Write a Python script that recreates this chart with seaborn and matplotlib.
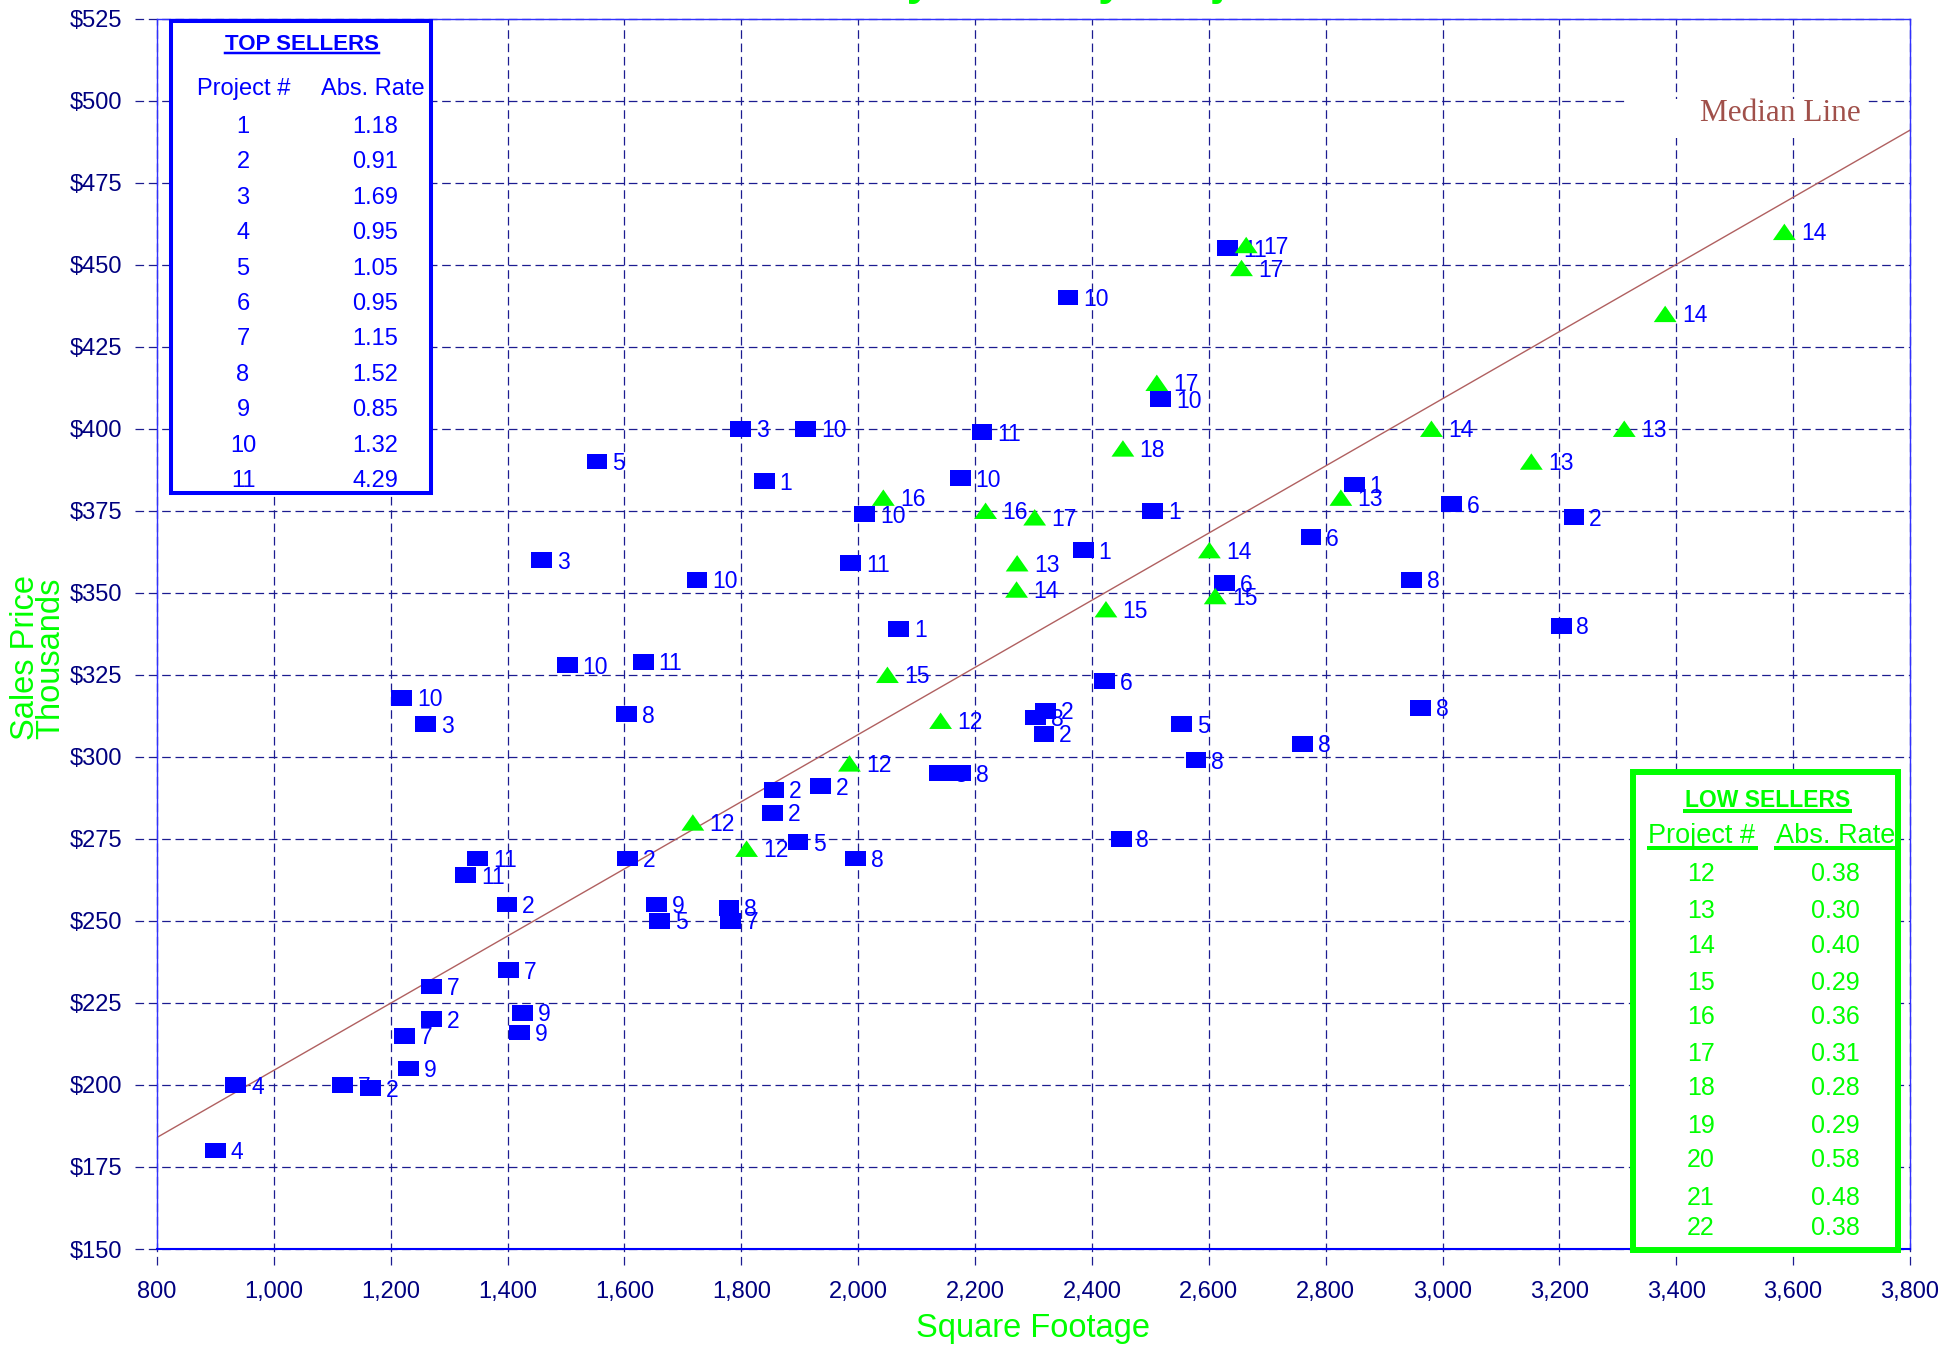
import pandas as pd
import seaborn as sns
import matplotlib.pyplot as plt
from matplotlib.patches import Rectangle
from matplotlib.lines import Line2D

plt.rcParams['font.family'] = ['Liberation Sans', 'DejaVu Sans']
plt.rcParams['lines.scale_dashes'] = False

# ---- data ----
# top sellers (blue squares)
top_sqft = [900, 935, 1118, 1165, 1230, 1224, 1270, 1270, 1420, 1425, 1402, 1399, 1328, 1349,
            1219, 1260, 1458, 1502, 1553, 1632, 1604, 1605, 1655, 1660, 1779, 1781, 1724, 1799,
            1839, 1910, 1987, 2011, 2069, 1853, 1856, 1935, 1897, 1995, 2139, 2175, 2175, 2212,
            2359, 2385, 2504, 2518, 2632, 2422, 2321, 2303, 2318, 2553, 2578, 2450, 2627, 2775,
            2849, 2761, 2947, 3016, 3225, 3203, 2963]
top_price = [180, 200, 200, 199, 205, 215, 220, 230, 216, 222, 235, 255, 264, 269,
             318, 310, 360, 328, 390, 329, 313, 269, 255, 250, 254, 250, 354, 400,
             384, 400, 359, 374, 339, 283, 290, 291, 274, 269, 295, 295, 385, 399,
             440, 363, 375, 409, 455, 323, 314, 312, 307, 310, 299, 275, 353, 367,
             383, 304, 354, 377, 373, 340, 315]
top_project = [4, 4, 7, 2, 9, 7, 2, 7, 9, 9, 7, 2, 11, 11,
               10, 3, 3, 10, 5, 11, 8, 2, 9, 5, 8, 7, 10, 3,
               1, 10, 11, 10, 1, 2, 2, 2, 5, 8, 8, 8, 10, 11,
               10, 1, 1, 10, 11, 6, 2, 8, 2, 5, 8, 8, 6, 6,
               1, 8, 8, 6, 2, 8, 8]

# low sellers (green triangles)
low_sqft = [1717, 1809, 1985, 2141, 2050, 2043, 2218, 2302, 2272, 2271, 2424, 2453,
            2511, 2601, 2611, 2656, 2664, 2826, 2981, 3152, 3311, 3381, 3585]
low_price = [280, 272, 298, 311, 325, 379, 375, 373, 359, 351, 345, 394,
             414, 363, 349, 449, 456, 379, 400, 390, 400, 435, 460]
low_project = [12, 12, 12, 12, 15, 16, 16, 17, 13, 14, 15, 18,
               17, 14, 15, 17, 17, 13, 14, 13, 13, 14, 14]

median_sqft = [800, 3800]
median_price = [184, 491]

top_table_project = ['1', '2', '3', '4', '5', '6', '7', '8', '9', '10', '11']
top_table_rate = ['1.18', '0.91', '1.69', '0.95', '1.05', '0.95', '1.15', '1.52', '0.85', '1.32', '4.29']
low_table_project = ['12', '13', '14', '15', '16', '17', '18', '19', '20', '21', '22']
low_table_rate = ['0.38', '0.30', '0.40', '0.29', '0.36', '0.31', '0.28', '0.29', '0.58', '0.48', '0.38']

x_ticks = [800, 1000, 1200, 1400, 1600, 1800, 2000, 2200, 2400, 2600, 2800, 3000, 3200, 3400, 3600, 3800]
x_labels = ['800', '1,000', '1,200', '1,400', '1,600', '1,800', '2,000', '2,200', '2,400',
            '2,600', '2,800', '3,000', '3,200', '3,400', '3,600', '3,800']
y_ticks = [150, 175, 200, 225, 250, 275, 300, 325, 350, 375, 400, 425, 450, 475, 500, 525]
y_labels = ['$150', '$175', '$200', '$225', '$250', '$275', '$300', '$325', '$350', '$375',
            '$400', '$425', '$450', '$475', '$500', '$525']

BLUE = '#0000FF'
GREEN = '#00FF00'
NAVY = '#000080'
GRID = '#1C1C90'

W, H = 1941, 1345


def fx(px):
    return px / W


def fy(py):
    return 1 - py / H


df = pd.concat([
    pd.DataFrame({'sqft': top_sqft, 'price': top_price, 'project': top_project, 'group': 'top'}),
    pd.DataFrame({'sqft': low_sqft, 'price': low_price, 'project': low_project, 'group': 'low'}),
], ignore_index=True)

fig = plt.figure(figsize=(W / 100, H / 100), dpi=100)
ax = fig.add_axes([fx(157), fy(1249), fx(1910) - fx(157), fy(18.6) - fy(1249)])

# dashed grid, running a little past the axes like the tick marks
dash = (0, (6.2, 3.4))
for y in y_ticks:
    ax.axhline(y, xmin=-0.0125, xmax=1, color=GRID, lw=0.9, ls=dash, clip_on=False, zorder=1)
for x in x_ticks:
    ax.axvline(x, ymin=-0.013, ymax=1, color=GRID, lw=0.9, ls=dash, clip_on=False, zorder=1)

sns.lineplot(x=median_sqft, y=median_price, color='#B06060', lw=1.0, ax=ax, zorder=2)

sq = [(-1, -0.76), (1, -0.76), (1, 0.76), (-1, 0.76), (-1, -0.76)]
tri = [(-1, -0.72), (1, -0.72), (0, 0.72), (-1, -0.72)]
sns.scatterplot(data=df, x='sqft', y='price', hue='group', style='group', size='group',
                markers={'top': sq, 'low': tri}, palette={'top': BLUE, 'low': GREEN},
                sizes={'top': 225, 'low': 270}, linewidth=0, legend=False, ax=ax, zorder=3)

for _, r in df.iterrows():
    off = 11 if r['group'] == 'top' else 12
    ax.annotate(str(r['project']), (r['sqft'], r['price']), xytext=(off, -1.5),
                textcoords='offset points', ha='left', va='center',
                fontsize=16.5, color=BLUE, zorder=2.8)

ax.set_xlim(800, 3800)
ax.set_ylim(150, 525)
ax.set_xticks(x_ticks)
ax.set_xticklabels(x_labels)
ax.set_yticks(y_ticks)
ax.set_yticklabels(y_labels)
ax.tick_params(axis='both', length=0, labelsize=17, labelcolor=NAVY)
ax.tick_params(axis='x', pad=23)
ax.tick_params(axis='y', pad=25)
ax.set_xlabel('')
ax.set_ylabel('')
for side in ['left', 'top', 'right']:
    ax.spines[side].set_color('#3030FF')
    ax.spines[side].set_linewidth(1.0)
ax.spines['bottom'].set_color(BLUE)
ax.spines['bottom'].set_linewidth(1.5)

# axis titles and the clipped chart title
fig.text(fx(1033), fy(1337), 'Square Footage', ha='center', va='baseline', fontsize=23.5, color=GREEN)
fig.text(fx(38), fy(658), 'Sales Price\nThousands', rotation=90, ha='center', va='center',
         multialignment='center', linespacing=0.75, fontsize=23.5, color=GREEN)
fig.text(fx(746), fy(-6.5), 'Sales by Price by Project', ha='left', va='baseline',
         fontsize=33, fontweight='bold', color=GREEN)

# median line label on a white patch
fig.add_artist(Rectangle((fx(1625), fy(138)), fx(1868) - fx(1625), fy(99) - fy(138),
                         transform=fig.transFigure, facecolor='white', edgecolor='none', zorder=9))
fig.text(fx(1780), fy(121), 'Median Line', ha='center', va='baseline', fontsize=22.5,
         family='Liberation Serif', color='#A0504A', zorder=11)

# top sellers box
fig.add_artist(Rectangle((fx(171), fy(493)), fx(431) - fx(171), fy(21) - fy(493),
                         transform=fig.transFigure, facecolor='white', edgecolor=BLUE, lw=2.9, zorder=10))
t_top = fig.text(fx(302), fy(50), 'TOP SELLERS', ha='center', va='baseline', fontsize=16,
                 fontweight='bold', color=BLUE, zorder=11)
fig.text(fx(244), fy(95), 'Project #', ha='center', va='baseline', fontsize=17, color=BLUE, zorder=11)
fig.text(fx(373), fy(95), 'Abs. Rate', ha='center', va='baseline', fontsize=17, color=BLUE, zorder=11)
for i, (p, r) in enumerate(zip(top_table_project, top_table_rate)):
    yb = 133 + 35.4 * i
    fig.text(fx(243), fy(yb), p, ha='center', va='baseline', fontsize=17, color=BLUE, zorder=11)
    fig.text(fx(375), fy(yb), r, ha='center', va='baseline', fontsize=17, color=BLUE, zorder=11)

# low sellers box
fig.add_artist(Rectangle((fx(1633), fy(1250)), fx(1898) - fx(1633), fy(771.5) - fy(1250),
                         transform=fig.transFigure, facecolor='white', edgecolor=GREEN, lw=4.3, zorder=10))
t_low = fig.text(fx(1767.5), fy(807), 'LOW SELLERS', ha='center', va='baseline', fontsize=16.5,
                 fontweight='bold', color=GREEN, zorder=11)
h1 = fig.text(fx(1702), fy(843), 'Project #', ha='center', va='baseline', fontsize=19.5, color=GREEN, zorder=11)
h2 = fig.text(fx(1836), fy(843), 'Abs. Rate', ha='center', va='baseline', fontsize=19.5, color=GREEN, zorder=11)
low_rows = [881, 918, 953, 990, 1024, 1061, 1095, 1133, 1167, 1205, 1235]
for yb, p, r in zip(low_rows, low_table_project, low_table_rate):
    fig.text(fx(1701), fy(yb), p, ha='center', va='baseline', fontsize=18, color=GREEN, zorder=11)
    fig.text(fx(1835), fy(yb), r, ha='center', va='baseline', fontsize=18, color=GREEN, zorder=11)

# underlines
fig.canvas.draw()
renderer = fig.canvas.get_renderer()
for t, y_px, lw_px, c in [(t_top, 53, 2.5, BLUE), (t_low, 811, 4, GREEN),
                          (h1, 848, 4, GREEN), (h2, 848, 4, GREEN)]:
    bb = t.get_window_extent(renderer)
    fig.add_artist(Line2D([bb.x0 / W, bb.x1 / W], [fy(y_px), fy(y_px)], transform=fig.transFigure,
                          color=c, lw=lw_px * 0.72, zorder=11))

fig.savefig('out.png', dpi=100)
